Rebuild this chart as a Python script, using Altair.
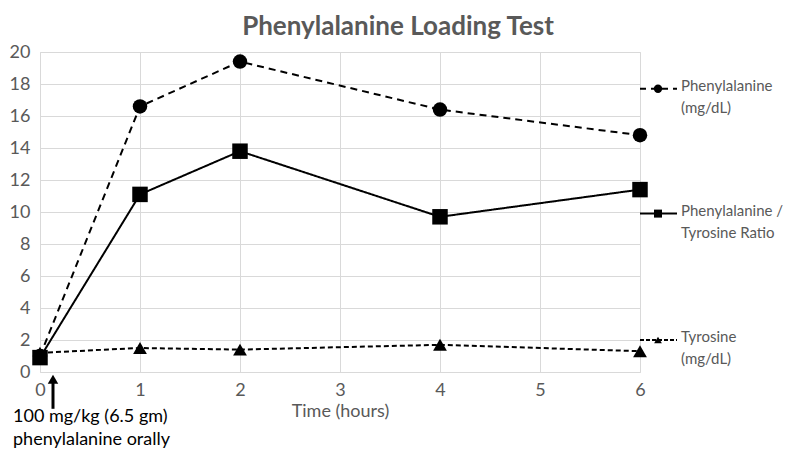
import altair as alt
import pandas as pd

# ---- data ----
hours = [0, 1, 2, 4, 6]
phe = [1.0, 16.6, 19.4, 16.4, 14.8]
ratio = [0.9, 11.1, 13.8, 9.7, 11.4]
tyr = [1.2, 1.5, 1.4, 1.7, 1.3]

legend_labels = ["Phenylalanine\n(mg/dL)", "Phenylalanine /\nTyrosine Ratio", "Tyrosine\n(mg/dL)"]
legend_y = [17.7, 9.9, 2.0]
legend_x0, legend_xm, legend_x1, legend_xt = 6.0, 6.18, 6.37, 6.41

note_text = "100 mg/kg (6.5 gm)\nphenylalanine orally"
note_x, note_y = -0.27, -2.25
arrow_x, arrow_bottom, arrow_top = 0.13, -2.3, -0.45

y_ticks = list(range(0, 21, 2))
x_ticks = list(range(0, 7))

FONT = "Lato"
GRAY = "#595959"

x_scale = alt.Scale(domain=[0, 6], nice=False, zero=False)
y_scale = alt.Scale(domain=[0, 20], nice=False)

x_axis = alt.Axis(values=x_ticks, format="d", title="Time (hours)", grid=True, gridColor="#d9d9d9",
                  domain=False, ticks=False, labelPadding=9, titlePadding=3,
                  labelFlush=False, labelOverlap=False,
                  labelFontSize=18, titleFontSize=18, labelColor=GRAY, titleColor=GRAY,
                  labelFont=FONT, titleFont=FONT, titleFontWeight="normal")
y_axis = alt.Axis(values=y_ticks, format="d", title=None, grid=True, gridColor="#d9d9d9",
                  domain=False, ticks=False, labelPadding=10,
                  labelFlush=False, labelOverlap=False,
                  labelFontSize=18, labelColor=GRAY, labelFont=FONT)


def X(field):
    return alt.X(field, scale=x_scale, axis=x_axis)


def Y(field):
    return alt.Y(field, scale=y_scale, axis=y_axis)


df = pd.DataFrame({"t": hours, "phe": phe, "ratio": ratio, "tyr": tyr})
base = alt.Chart(df)


def series(col, dash, shape, size):
    line = base.mark_line(color="black", strokeWidth=2, strokeDash=dash).encode(
        x=X("t:Q"), y=Y(f"{col}:Q"))
    pts = base.mark_point(color="black", filled=True, opacity=1, shape=shape, size=size).encode(
        x=X("t:Q"), y=Y(f"{col}:Q"))
    return line + pts


phe_layer = series("phe", [7, 5], "circle", 210)
ratio_layer = series("ratio", [1, 0], "square", 240)
tyr_layer = series("tyr", [5, 3], "triangle-up", 190)

# ---- legend drawn as marks beside the plot ----
leg = pd.DataFrame({
    "label": legend_labels,
    "y": legend_y,
    "x0": [legend_x0] * 3,
    "x1": [legend_x1] * 3,
    "xm": [legend_xm] * 3,
    "xt": [legend_xt] * 3,
})
dashes = [[6, 5], [1, 0], [4, 2]]
shapes = ["circle", "square", "triangle-up"]
sizes = [70, 64, 60]
leg_layers = []
for i in range(3):
    c = alt.Chart(leg.iloc[[i]])
    leg_layers.append(c.mark_rule(color="black", strokeWidth=2, strokeDash=dashes[i]).encode(
        x=X("x0:Q"), x2="x1:Q", y=Y("y:Q")))
    leg_layers.append(c.mark_point(color="black", filled=True, opacity=1, shape=shapes[i], size=sizes[i]).encode(
        x=X("xm:Q"), y=Y("y:Q")))
    leg_layers.append(c.mark_text(align="left", baseline="top", dy=-10, lineBreak="\n", lineHeight=22,
                                  font=FONT, fontSize=15, color=GRAY).encode(
        x=X("xt:Q"), y=Y("y:Q"), text="label:N"))

# ---- annotation arrow and note ----
ann = pd.DataFrame({"x": [arrow_x], "yb": [arrow_bottom], "yt": [arrow_top],
                    "nx": [note_x], "ny": [note_y], "note": [note_text]})
a = alt.Chart(ann)
arrow_shaft = a.mark_rule(color="black", strokeWidth=3).encode(
    x=X("x:Q"), y=Y("yb:Q"), y2="yt:Q")
arrow_head = a.mark_point(color="black", filled=True, opacity=1, shape="triangle-up", size=110).encode(
    x=X("x:Q"), y=Y("yt:Q"))
note = a.mark_text(align="left", baseline="top", lineBreak="\n", lineHeight=23,
                   font=FONT, fontSize=18, color="black").encode(
    x=X("nx:Q"), y=Y("ny:Q"), text="note:N")

chart = alt.layer(
    phe_layer, ratio_layer, tyr_layer, *leg_layers, arrow_shaft, arrow_head, note
).properties(
    width=600, height=320,
    title=alt.TitleParams("Phenylalanine Loading Test", anchor="middle", dx=58, offset=3,
                          font=FONT, fontSize=26, fontWeight="bold", color=GRAY),
    autosize=alt.AutoSizeParams(type="none"),
    padding={"left": 32, "top": 44, "right": 152, "bottom": 82},
).configure_view(stroke=None).configure(background="white")

chart.save("out.html", embed_options={"renderer": "svg", "actions": False})
